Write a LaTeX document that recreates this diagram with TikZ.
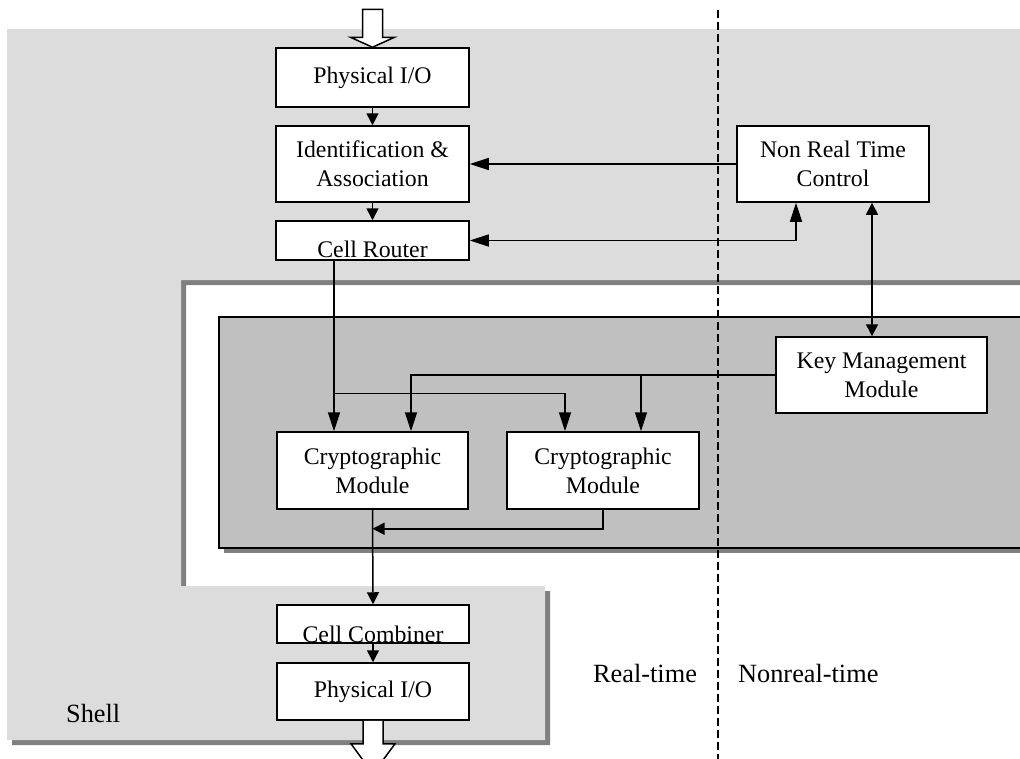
\documentclass[tikz,border=0pt]{standalone}
\usepackage{fontspec}
\setmainfont{Liberation Serif}
\usetikzlibrary{arrows.meta,calc}
\definecolor{shellgray}{HTML}{DCDCDC}
\definecolor{shadowgray}{HTML}{808080}
\definecolor{innergray}{HTML}{C0C0C0}
\newcommand\diagfont{\fontsize{23.8}{29}\selectfont}
\newcommand\lblfont{\fontsize{26.3}{31}\selectfont}
\tikzset{
  box/.style={draw=black, fill=white, line width=1.5pt, inner sep=0pt, align=center, font=\diagfont},
  lbl/.style={inner sep=0pt, font=\lblfont, anchor=base west},
  btxt/.style={inner sep=0pt, font=\diagfont, anchor=base},
  conn/.style={line width=1.5pt},
  arrl/.style={conn, -{Triangle[length=19pt,width=12pt]}},
  arrs/.style={conn, -{Triangle[length=12pt,width=12pt]}},
  dbll/.style={conn, {Triangle[length=19pt,width=12pt]}-{Triangle[length=19pt,width=12pt]}},
  dbls/.style={conn, {Triangle[length=12pt,width=12pt]}-{Triangle[length=12pt,width=12pt]}},
  hollow/.style={draw=black, fill=white, line width=1.5pt, line join=miter},
}
\begin{document}
\begin{tikzpicture}[x=1pt,y=-1pt]
\useasboundingbox (0,0) rectangle (1020,758);
\clip (0,0) rectangle (1020,758);
% shell with drop shadow
\path[fill=shadowgray] (12,34) -- (1040,34) -- (1040,285) -- (186,285) -- (186,591) -- (550,591) -- (550,745) -- (12,745) -- cycle;
\path[fill=shellgray] (7,29) -- (1040,29) -- (1040,280) -- (181,280) -- (181,586) -- (545,586) -- (545,740) -- (7,740) -- cycle;
% inner (crypto) region with drop shadow
\fill[shadowgray] (224,322) rectangle (1040,553);
\draw[fill=innergray, line width=1.5pt] (219,317) rectangle (1040,548);
% real-time / nonreal-time divider
\draw[line width=1.5pt, dash pattern=on 8pt off 4pt] (718,10) -- (718,760);

% boxes
\node[box, minimum width=193pt, minimum height=59pt] (pio1) at (372.5,77.5) {Physical I/O};
\node[box, minimum width=193pt, minimum height=76pt] (ident) at (372.5,164) {Identification \&\\Association};
\node[box, minimum width=193pt, minimum height=39pt] (router) at (372.5,240.5) {};
\node[btxt] (routertxt) at (372.5,257) {Cell Router};
\node[box, minimum width=192pt, minimum height=76pt] (nrt) at (833,164) {Non Real Time\\Control};
\node[box, minimum width=211pt, minimum height=76pt] (kmm) at (881.5,375) {Key Management\\Module};
\node[box, minimum width=191pt, minimum height=77pt] (c1) at (372.5,470.5) {Cryptographic\\Module};
\node[box, minimum width=192pt, minimum height=77pt] (c2) at (603,470.5) {Cryptographic\\Module};
\node[box, minimum width=192pt, minimum height=38pt] (comb) at (373,624) {};
\node[btxt] (combtxt) at (373,642) {Cell Combiner};
\node[box, minimum width=192pt, minimum height=57pt] (pio2) at (373,691.5) {Physical I/O};

% hollow in/out arrows
\draw[hollow] ($(pio1.north)+(-10,-38)$) -- ++(20,0) -- ++(0,28) -- ++(12,0) -- (pio1.north) -- ++(-22,-10) -- ++(12,0) -- cycle;
\draw[hollow] ($(pio2.south)+(-10,0)$) -- ++(0,23) -- ++(-12,0) -- ++(22,30) -- ++(22,-30) -- ++(-12,0) -- ++(0,-23);

% connectors
\draw[arrs] (pio1.south) -- (ident.north);
\draw[arrs] (ident.south) -- (router.north);
\draw[arrl] (nrt.west) -- (ident.east);
\coordinate (nrtA) at ([xshift=-37pt]nrt.south);
\draw[dbll] (router.east) -| (nrtA);
\coordinate (nrtB) at ([xshift=39pt]nrt.south);
\draw[dbls] (nrtB) -- (nrtB |- kmm.north);

\coordinate (rout) at ([xshift=-38.5pt]router.south);
\coordinate (c1a) at ([xshift=-38.5pt]c1.north);
\coordinate (c1b) at ([xshift=38.5pt]c1.north);
\coordinate (c2a) at ([xshift=-38pt]c2.north);
\coordinate (c2b) at ([xshift=38pt]c2.north);
\coordinate (j1) at ([yshift=38pt]c1a);
\draw[arrl] (rout) -- (c1a);
\draw[arrl] (j1) -| (c2a);
\draw[arrl] (kmm.west) -| (c1b);
\coordinate (j3) at (kmm.west -| c2b);
\draw[arrl] (j3) -- (c2b);
\coordinate (j2) at ([yshift=-19pt]c1.south);
\draw[arrs] (c2.south) |- (j2);
\draw[arrs] (c1.south) -- (comb.north);
\draw[arrs] (comb.south) -- (pio2.north);

% labels
\node[lbl] (shell) at (66,722) {Shell};
\node[lbl] (rtl) at (593,682) {Real-time};
\node[lbl] (nrtl) at (738,682) {Nonreal-time};
\end{tikzpicture}
\end{document}
